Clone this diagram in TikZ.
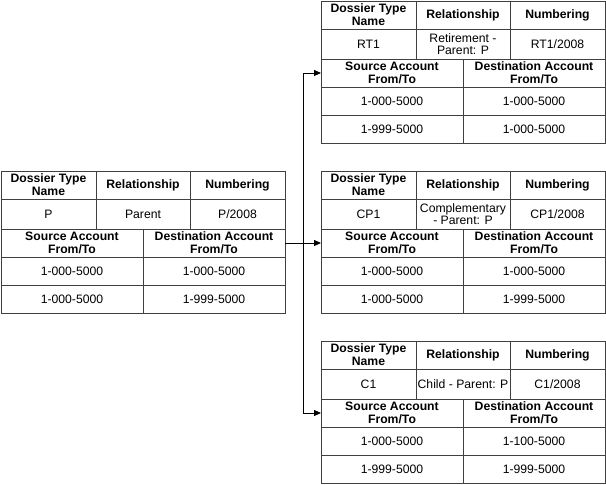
\documentclass[tikz,border=0pt]{standalone}
\usepackage{fontspec}
\setmainfont{Liberation Sans}
\usetikzlibrary{arrows.meta,positioning}
\tikzstyle{cell}=[rectangle, draw=black!75, line width=0.9pt, anchor=north west, inner sep=0pt, outer sep=0pt, align=center, font=\fontsize{12.2}{13}\selectfont]
\tikzstyle{headcell}=[cell, font=\fontsize{12.2}{13}\selectfont\bfseries]
\tikzstyle{link}=[-{Triangle[length=7pt,width=6pt]}, line width=0.8pt]
% one dossier table: #1 prefix, #2 top left, #3 name, #4 relationship,
% #5 numbering, #6-#9 source/destination accounts
\newcommand{\dossiertable}[9]{%
  \node[headcell, minimum width=95pt, minimum height=28pt] (#1-type) at #2 {Dossier Type\\Name};
  \node[headcell, minimum width=94pt, minimum height=28pt] (#1-rel) at (#1-type.north east) {Relationship};
  \node[headcell, minimum width=95pt, minimum height=28pt] (#1-num) at (#1-rel.north east) {Numbering};
  \node[cell, minimum width=95pt, minimum height=30pt] (#1-name) at (#1-type.south west) {#3};
  \node[cell, minimum width=94pt, minimum height=30pt, font=\fontsize{12.2}{12.5}\selectfont] (#1-relv) at (#1-name.north east) {#4};
  \node[cell, minimum width=95pt, minimum height=30pt] (#1-numv) at (#1-relv.north east) {#5};
  \node[headcell, minimum width=142pt, minimum height=28pt] (#1-src) at (#1-name.south west) {Source Account\\From/To};
  \node[headcell, minimum width=142pt, minimum height=28pt] (#1-dst) at (#1-src.north east) {Destination Account\\From/To};
  \node[cell, minimum width=142pt, minimum height=28pt] (#1-s1) at (#1-src.south west) {#6};
  \node[cell, minimum width=142pt, minimum height=28pt] (#1-d1) at (#1-s1.north east) {#7};
  \node[cell, minimum width=142pt, minimum height=28pt] (#1-s2) at (#1-s1.south west) {#8};
  \node[cell, minimum width=142pt, minimum height=28pt] (#1-d2) at (#1-s2.north east) {#9};
}
\begin{document}
\begin{tikzpicture}[x=1pt, y=-1pt]
  \useasboundingbox (0,0) rectangle (606,485);
  % parent dossier
  \dossiertable{p}{(1,171)}{P}{Parent}{P/2008}{1-000-5000}{1-000-5000}{1-000-5000}{1-999-5000}
  % derived dossiers
  \dossiertable{rt1}{(321,1)}{RT1}{Retirement -\\Parent: P}{RT1/2008}{1-000-5000}{1-000-5000}{1-999-5000}{1-000-5000}
  \dossiertable{cp1}{(321,171)}{CP1}{Complementary\\- Parent: P}{CP1/2008}{1-000-5000}{1-000-5000}{1-000-5000}{1-999-5000}
  \dossiertable{c1}{(321,341)}{C1}{Child - Parent: P}{C1/2008}{1-000-5000}{1-100-5000}{1-999-5000}{1-999-5000}
  \coordinate[right=18pt of p-dst.east] (jn);
  \draw[link] (p-dst.east) -- (cp1-src.west);
  \draw[link] (jn) |- (rt1-src.west);
  \draw[link] (jn) |- (c1-src.west);
\end{tikzpicture}
\end{document}
